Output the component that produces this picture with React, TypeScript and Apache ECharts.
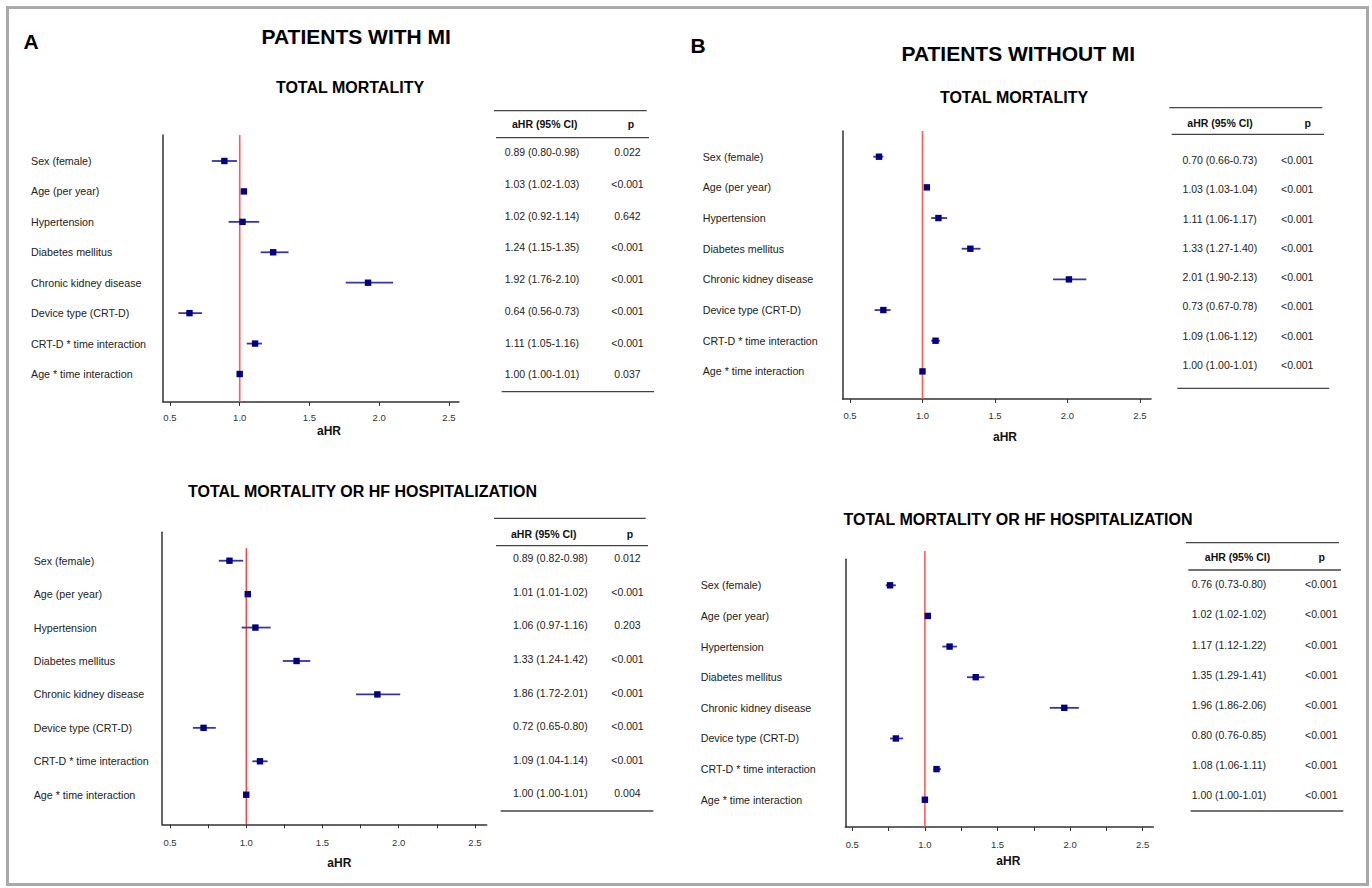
import React, { useEffect, useRef } from "react";
import * as echarts from "echarts";

// ---------- data ----------
const ROW_LABELS = [
  "Sex (female)",
  "Age (per year)",
  "Hypertension",
  "Diabetes mellitus",
  "Chronic kidney disease",
  "Device type (CRT-D)",
  "CRT-D * time interaction",
  "Age * time interaction",
];

const X_LABEL_VALUES = [0.5, 1.0, 1.5, 2.0, 2.5];
const X_TICKS_MAJOR = [0.5, 1.0, 1.5, 2.0, 2.5];
const X_TICKS_MINOR = [0.5, 0.75, 1.0, 1.25, 1.5, 1.75, 2.0, 2.25, 2.5];
const REF_VALUE = 1;

// Patients with MI - total mortality
const MI_MORT_AHR = [0.89, 1.03, 1.02, 1.24, 1.92, 0.64, 1.11, 1.0];
const MI_MORT_LO = [0.8, 1.02, 0.92, 1.15, 1.76, 0.56, 1.05, 1.0];
const MI_MORT_HI = [0.98, 1.03, 1.14, 1.35, 2.1, 0.73, 1.16, 1.01];
const MI_MORT_P = ["0.022", "<0.001", "0.642", "<0.001", "<0.001", "<0.001", "<0.001", "0.037"];

// Patients with MI - total mortality or HF hospitalization
const MI_HOSP_AHR = [0.89, 1.01, 1.06, 1.33, 1.86, 0.72, 1.09, 1.0];
const MI_HOSP_LO = [0.82, 1.01, 0.97, 1.24, 1.72, 0.65, 1.04, 1.0];
const MI_HOSP_HI = [0.98, 1.02, 1.16, 1.42, 2.01, 0.8, 1.14, 1.01];
const MI_HOSP_P = ["0.012", "<0.001", "0.203", "<0.001", "<0.001", "<0.001", "<0.001", "0.004"];

// Patients without MI - total mortality
const NOMI_MORT_AHR = [0.7, 1.03, 1.11, 1.33, 2.01, 0.73, 1.09, 1.0];
const NOMI_MORT_LO = [0.66, 1.03, 1.06, 1.27, 1.9, 0.67, 1.06, 1.0];
const NOMI_MORT_HI = [0.73, 1.04, 1.17, 1.4, 2.13, 0.78, 1.12, 1.01];
const NOMI_MORT_P = ["<0.001", "<0.001", "<0.001", "<0.001", "<0.001", "<0.001", "<0.001", "<0.001"];

// Patients without MI - total mortality or HF hospitalization
const NOMI_HOSP_AHR = [0.76, 1.02, 1.17, 1.35, 1.96, 0.8, 1.08, 1.0];
const NOMI_HOSP_LO = [0.73, 1.02, 1.12, 1.29, 1.86, 0.76, 1.06, 1.0];
const NOMI_HOSP_HI = [0.8, 1.02, 1.22, 1.41, 2.06, 0.85, 1.11, 1.01];
const NOMI_HOSP_P = ["<0.001", "<0.001", "<0.001", "<0.001", "<0.001", "<0.001", "<0.001", "<0.001"];

const TABLE_HEADER = ["aHR (95% CI)", "p"];
const AXIS_TITLE = "aHR";

// ---------- layout ----------
const FONT = "'Liberation Sans', Arial, Helvetica, sans-serif";

const PANELS = [
  {
    est: MI_MORT_AHR, lo: MI_MORT_LO, hi: MI_MORT_HI, p: MI_MORT_P,
    grid: { left: 163, top: 135, width: 296, height: 267 },
    xMin: 0.45, xMax: 2.572, yMin: -0.854, yMax: 7.92,
    labelMargin: 132, tickMargin: 10, ticks: X_TICKS_MAJOR,
    refTop: -0.854, refColor: "#ff5a5a", refWidth: 1.6,
    axisTitle: [329, 431],
    table: {
      top: [494, 646.7, 110.7], mid: [496, 649, 137.7], bottom: [501.7, 654, 391.7],
      headerY: 124.3, headerX: [544.7, 631], colX: [542, 627.5], rowY0: 152.3, rowStep: 31.71,
    },
  },
  {
    est: MI_HOSP_AHR, lo: MI_HOSP_LO, hi: MI_HOSP_HI, p: MI_HOSP_P,
    grid: { left: 162, top: 532.3, width: 324.7, height: 292 },
    xMin: 0.4475, xMax: 2.577, yMin: -0.85, yMax: 7.885,
    labelMargin: 128.3, tickMargin: 13, ticks: X_TICKS_MINOR,
    refTop: -0.37, refColor: "#ff1a1a", refWidth: 1.2,
    axisTitle: [339.3, 863.3],
    table: {
      top: [494, 645.7, 518.3], mid: [496, 648, 545.7], bottom: [500.7, 653.3, 811],
      headerY: 534.3, headerX: [543.7, 630], colX: [550.3, 627.5], rowY0: 558.3, rowStep: 33.57,
    },
  },
  {
    est: NOMI_MORT_AHR, lo: NOMI_MORT_LO, hi: NOMI_MORT_HI, p: NOMI_MORT_P,
    grid: { left: 842.7, top: 131, width: 308.3, height: 268 },
    xMin: 0.4497, xMax: 2.576, yMin: -0.838, yMax: 7.9,
    labelMargin: 140, tickMargin: 11, ticks: X_TICKS_MAJOR,
    refTop: -0.838, refColor: "#ff5a5a", refWidth: 1.6,
    axisTitle: [1005, 436.7],
    table: {
      top: [1169.3, 1322.3, 107.7], mid: [1171.7, 1324, 134.3], bottom: [1177.3, 1329.3, 388.3],
      headerY: 122.7, headerX: [1220, 1307.7], colX: [1219.8, 1297.2], rowY0: 160, rowStep: 29.29,
    },
  },
  {
    est: NOMI_HOSP_AHR, lo: NOMI_HOSP_LO, hi: NOMI_HOSP_HI, p: NOMI_HOSP_P,
    grid: { left: 845.3, top: 559.3, width: 308, height: 267.7 },
    xMin: 0.4518, xMax: 2.573, yMin: -0.849, yMax: 7.89,
    labelMargin: 144.6, tickMargin: 12, ticks: X_TICKS_MINOR,
    refTop: -1.12, refColor: "#ff5a5a", refWidth: 1.6,
    axisTitle: [1008.3, 860.7],
    table: {
      top: [1186, 1339, 542.7], mid: [1188.3, 1341, 570], bottom: [1190.7, 1343.3, 811],
      headerY: 557.3, headerX: [1237.5, 1321.7], colX: [1229, 1321.3], rowY0: 584.3, rowStep: 30.1,
    },
  },
];

const TITLES = [
  { text: "A", x: 31.2, y: 41, size: 21 },
  { text: "PATIENTS WITH MI", x: 356.2, y: 36.5, size: 21 },
  { text: "TOTAL MORTALITY", x: 350, y: 87.4, size: 16 },
  { text: "TOTAL MORTALITY OR HF HOSPITALIZATION", x: 362.5, y: 491.5, size: 16 },
  { text: "B", x: 698, y: 45, size: 21 },
  { text: "PATIENTS WITHOUT MI", x: 1018.3, y: 53, size: 21 },
  { text: "TOTAL MORTALITY", x: 1014, y: 97.4, size: 16 },
  { text: "TOTAL MORTALITY OR HF HOSPITALIZATION", x: 1018, y: 519, size: 16 },
];

function fmt(v: number) {
  return v.toFixed(2);
}

function buildOption() {
  const grid: any[] = [];
  const xAxis: any[] = [];
  const yAxis: any[] = [];
  const series: any[] = [];
  const graphic: any[] = [];

  graphic.push({
    type: "rect",
    shape: { x: 7.5, y: 7.5, width: 1360, height: 877 },
    style: { fill: "none", stroke: "#a9a9a9", lineWidth: 3 },
    silent: true,
  });

  TITLES.forEach((t) => {
    graphic.push({
      type: "text",
      x: t.x,
      y: t.y,
      style: {
        text: t.text,
        fontSize: t.size,
        fontWeight: "bold",
        fontFamily: FONT,
        fill: "#000",
        align: "center",
        verticalAlign: "middle",
      },
    });
  });

  PANELS.forEach((pn, i) => {
    grid.push({ ...pn.grid, containLabel: false });
    xAxis.push({
      type: "value",
      gridIndex: i,
      min: pn.xMin,
      max: pn.xMax,
      splitLine: { show: false },
      axisLine: { show: true, onZero: false, lineStyle: { color: "#333", width: 1.5 } },
      axisTick: { show: true, length: 4, customValues: pn.ticks, lineStyle: { color: "#333", width: 1 } },
      axisLabel: {
        show: true,
        customValues: X_LABEL_VALUES,
        formatter: (v: number) => Number(v).toFixed(1),
        fontSize: 9.5,
        fontFamily: FONT,
        color: "#333",
        margin: pn.tickMargin,
      },
    });
    yAxis.push({
      type: "value",
      gridIndex: i,
      inverse: true,
      min: pn.yMin,
      max: pn.yMax,
      splitLine: { show: false },
      axisLine: { show: true, onZero: false, lineStyle: { color: "#333", width: 1.5 } },
      axisTick: { show: false },
      axisLabel: {
        show: true,
        customValues: ROW_LABELS.map((_, k) => k),
        formatter: (v: number) => ROW_LABELS[Math.round(v)] ?? "",
        align: "left",
        margin: pn.labelMargin,
        fontSize: 10.7,
        fontFamily: FONT,
        color: "#222",
      },
    });

    // reference line at aHR = 1
    series.push({
      type: "custom",
      xAxisIndex: i,
      yAxisIndex: i,
      silent: true,
      clip: false,
      encode: { x: 0, y: [1, 2] },
      data: [[REF_VALUE, pn.refTop, pn.yMax]],
      renderItem: (params: any, api: any) => {
        const a = api.coord([api.value(0), api.value(1)]);
        const b = api.coord([api.value(0), api.value(2)]);
        return {
          type: "line",
          shape: { x1: a[0], y1: a[1], x2: b[0], y2: b[1] },
          style: { stroke: pn.refColor, lineWidth: pn.refWidth },
        };
      },
      z: 2,
    });

    // estimates with CI
    series.push({
      type: "custom",
      xAxisIndex: i,
      yAxisIndex: i,
      silent: true,
      clip: false,
      encode: { x: [0, 1, 2], y: 3 },
      data: pn.est.map((e, k) => [e, pn.lo[k], pn.hi[k], k]),
      renderItem: (params: any, api: any) => {
        const yv = api.value(3);
        const p = api.coord([api.value(0), yv]);
        const l = api.coord([api.value(1), yv]);
        const h = api.coord([api.value(2), yv]);
        return {
          type: "group",
          children: [
            {
              type: "line",
              shape: { x1: l[0], y1: p[1], x2: h[0], y2: p[1] },
              style: { stroke: "#3535a3", lineWidth: 1.8 },
            },
            {
              type: "rect",
              shape: { x: p[0] - 3.2, y: p[1] - 3.2, width: 6.4, height: 6.4 },
              style: { fill: "#000080" },
            },
          ],
        };
      },
      z: 3,
    });

    // axis title
    graphic.push({
      type: "text",
      x: pn.axisTitle[0],
      y: pn.axisTitle[1],
      style: {
        text: AXIS_TITLE,
        fontSize: 12,
        fontWeight: "bold",
        fontFamily: FONT,
        fill: "#111",
        align: "center",
        verticalAlign: "middle",
      },
    });

    // table
    const tb = pn.table;
    [tb.top, tb.mid, tb.bottom].forEach((ln) => {
      graphic.push({
        type: "line",
        shape: { x1: ln[0], y1: ln[2], x2: ln[1], y2: ln[2] },
        style: { stroke: "#444", lineWidth: 1.3 },
        silent: true,
      });
    });
    TABLE_HEADER.forEach((h, c) => {
      graphic.push({
        type: "text",
        x: tb.headerX[c],
        y: tb.headerY,
        style: {
          text: h,
          fontSize: 10.5,
          fontWeight: "bold",
          fontFamily: FONT,
          fill: "#111",
          align: "center",
          verticalAlign: "middle",
        },
      });
    });
    pn.est.forEach((e, k) => {
      const y = tb.rowY0 + k * tb.rowStep;
      graphic.push({
        type: "text",
        x: tb.colX[0],
        y,
        style: {
          text: `${fmt(e)} (${fmt(pn.lo[k])}-${fmt(pn.hi[k])})`,
          fontSize: 10.5,
          fontFamily: FONT,
          fill: "#222",
          align: "center",
          verticalAlign: "middle",
        },
      });
      graphic.push({
        type: "text",
        x: tb.colX[1],
        y,
        style: {
          text: pn.p[k],
          fontSize: 10.5,
          fontFamily: FONT,
          fill: "#222",
          align: "center",
          verticalAlign: "middle",
        },
      });
    });
  });

  return {
    animation: false,
    backgroundColor: "#ffffff",
    textStyle: { fontFamily: FONT },
    grid,
    xAxis,
    yAxis,
    series,
    graphic,
  };
}

export default function App() {
  const ref = useRef<HTMLDivElement>(null);
  useEffect(() => {
    if (!ref.current) return;
    const chart = echarts.init(ref.current, null, { renderer: "svg" });
    chart.setOption(buildOption() as any);
    return () => {
      chart.dispose();
    };
  }, []);
  return (
    <div
      ref={ref}
      style={{ position: "absolute", left: 0, top: 0, width: 1372, height: 888, background: "#fff" }}
    />
  );
}
